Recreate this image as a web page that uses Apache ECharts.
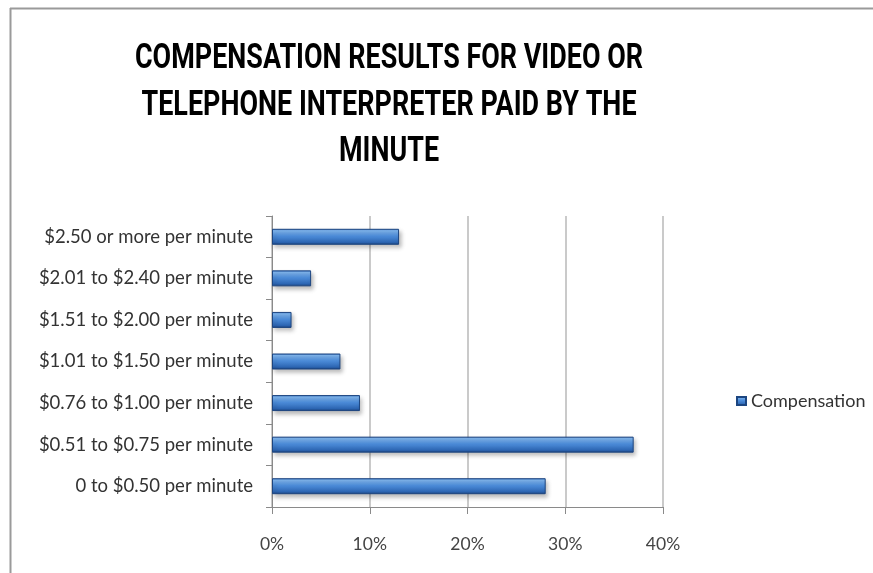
<!DOCTYPE html>
<html>
<head>
<meta charset="utf-8">
<script src="https://cdn.jsdelivr.net/npm/echarts@6/dist/echarts.min.js"></script>
<style>
  html, body { margin: 0; padding: 0; background: #fff; }
  #chart { width: 873px; height: 573px; }
</style>
</head>
<body>
<div id="chart"></div>
<script>
// Rate bands, listed bottom to top as drawn on the category axis
const categories = [
  '0 to $0.50 per minute',
  '$0.51 to $0.75 per minute',
  '$0.76 to $1.00 per minute',
  '$1.01 to $1.50 per minute',
  '$1.51 to $2.00 per minute',
  '$2.01 to $2.40 per minute',
  '$2.50 or more per minute'
];
// Share of respondents, in percent
const compensation = [28, 37, 9, 7, 2, 4, 13];
const seriesName = 'Compensation';
const titleText = 'COMPENSATION RESULTS FOR VIDEO OR\nTELEPHONE INTERPRETER PAID BY THE\nMINUTE';

const chart = echarts.init(document.getElementById('chart'));

const barFill = new echarts.graphic.LinearGradient(0, 0, 0, 1, [
  { offset: 0, color: '#3470c2' },
  { offset: 0.12, color: '#80b6ef' },
  { offset: 0.45, color: '#4d8dda' },
  { offset: 0.85, color: '#2c65b2' },
  { offset: 1, color: '#1b4079' }
]);

chart.setOption({
  animation: false,
  backgroundColor: '#fff',
  legend: {
    data: [seriesName],
    orient: 'vertical',
    left: 731,
    top: 387,
    itemWidth: 9,
    itemHeight: 8,
    itemGap: 6,
    icon: 'rect',
    textStyle: { fontFamily: 'Lato', fontSize: 18, color: '#333' }
  },
  grid: { left: 272, top: 216, width: 391, height: 291, containLabel: false },
  xAxis: {
    type: 'value',
    min: 0,
    max: 40,
    interval: 10,
    axisLine: { show: true, lineStyle: { color: '#8a8a8a', width: 1 } },
    axisTick: { show: true, length: 7, lineStyle: { color: '#8a8a8a' } },
    splitLine: { show: true, lineStyle: { color: '#b8b8b8', width: 1.5 } },
    axisLabel: {
      formatter: '{value}%',
      margin: 28,
      fontFamily: 'Lato',
      fontSize: 17.5,
      color: '#444'
    }
  },
  yAxis: {
    type: 'category',
    data: categories,
    axisLine: { show: true, lineStyle: { color: '#8a8a8a', width: 1 } },
    axisTick: { show: true, length: 6, lineStyle: { color: '#8a8a8a' } },
    splitLine: { show: false },
    axisLabel: {
      margin: 19,
      fontFamily: 'Lato',
      fontSize: 18.5,
      color: '#333'
    }
  },
  series: [{
    name: seriesName,
    type: 'bar',
    data: compensation,
    barWidth: 16,
    itemStyle: {
      color: barFill,
      borderColor: '#1c4580',
      borderWidth: 1,
      shadowColor: 'rgba(0,0,0,0.25)',
      shadowBlur: 4,
      shadowOffsetX: 2,
      shadowOffsetY: 3
    }
  }],
  graphic: [
    // Chart frame (top and left edges)
    { type: 'line', shape: { x1: 10.5, y1: 8, x2: 10.5, y2: 573 }, style: { stroke: '#9a9a9a', lineWidth: 2 } },
    { type: 'line', shape: { x1: 10, y1: 8.5, x2: 873, y2: 8.5 }, style: { stroke: '#9a9a9a', lineWidth: 2 } },
    // Condensed bold heading, horizontally narrowed around its centre
    {
      type: 'text',
      x: 389,
      y: 36,
      scaleX: 0.77,
      style: {
        text: titleText,
        align: 'center',
        verticalAlign: 'top',
        fontFamily: 'Roboto',
        fontWeight: 'bold',
        fontSize: 35,
        lineHeight: 46.5,
        fill: '#000'
      }
    }
  ]
});
</script>
</body>
</html>
